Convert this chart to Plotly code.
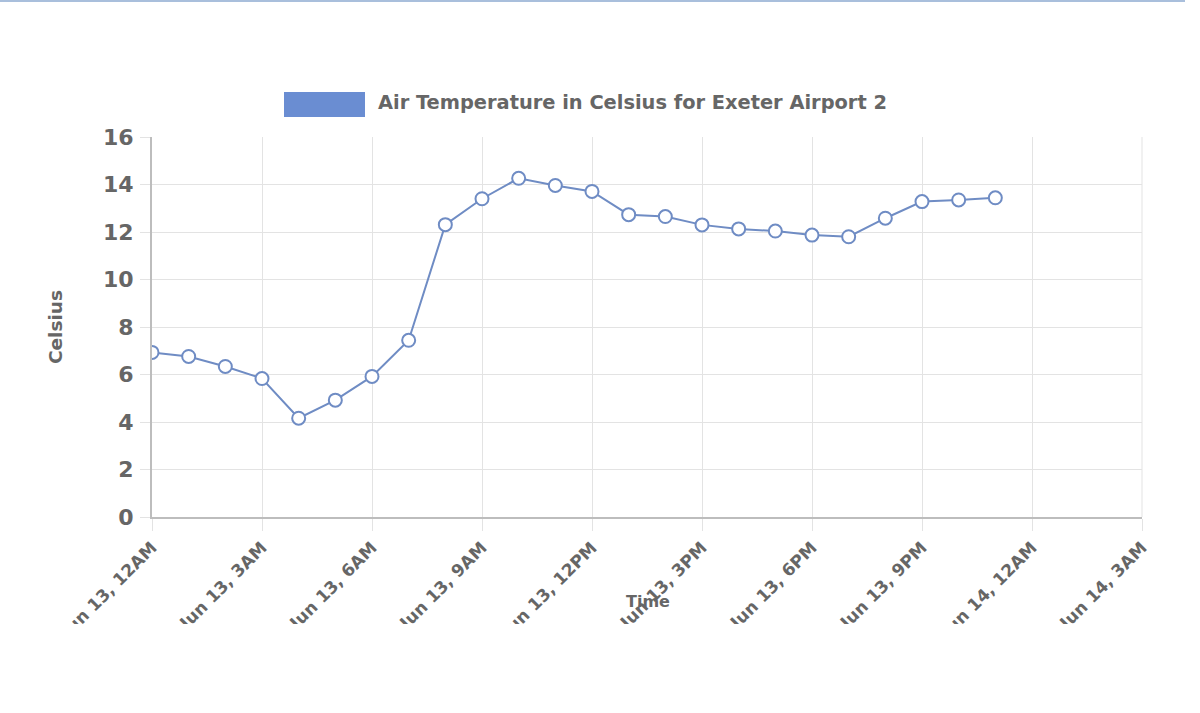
"""
Line chart: air temperature at Exeter Airport
"""
import plotly.graph_objects as go
import pandas as pd

# hourly readings, Jun 13
times = pd.date_range("2023-06-13 00:00", periods=24, freq="h")
temps = [6.93, 6.76, 6.34, 5.83, 4.16, 4.92, 5.92, 7.44, 12.31, 13.40, 14.26, 13.96,
         13.71, 12.73, 12.65, 12.30, 12.13, 12.04, 11.87, 11.80, 12.58, 13.28, 13.35, 13.44]

tick_vals = pd.date_range("2023-06-13 00:00", "2023-06-14 03:00", freq="3h")
tick_text = ["Jun 13, 12AM", "Jun 13, 3AM", "Jun 13, 6AM", "Jun 13, 9AM", "Jun 13, 12PM",
             "Jun 13, 3PM", "Jun 13, 6PM", "Jun 13, 9PM", "Jun 14, 12AM", "Jun 14, 3AM"]
y_ticks = [0, 2, 4, 6, 8, 10, 12, 14, 16]

series_name = "Air Temperature in Celsius for Exeter Airport 2"

FONT = "DejaVu Sans"
GREY = "#666666"
LINE_COL = "#6f8cc4"

# plot area in pixels (from the reference)
L, R, T, B = 152, 1142, 137, 517
W, H = 1200, 713


def px_x(p):
    return (p - L) / (R - L)


def px_y(p):
    return (B - p) / (B - T)


fig = go.Figure()
fig.add_trace(go.Scatter(
    x=times, y=temps, mode="lines+markers", name=series_name,
    line=dict(color=LINE_COL, width=2),
    marker=dict(size=13, color="white", line=dict(color=LINE_COL, width=2)),
    showlegend=False,
))

fig.update_layout(
    width=W, height=H,
    margin=dict(l=L, r=W - R, t=T, b=H - B, pad=0),
    paper_bgcolor="white", plot_bgcolor="white",
    font=dict(family=FONT, color=GREY),
    xaxis=dict(
        range=[tick_vals[0], tick_vals[-1]],
        tickvals=tick_vals, ticktext=tick_text, tickangle=-45,
        tickfont=dict(size=17, family=FONT, color=GREY, weight="bold"),
        showgrid=True, gridcolor="#e3e3e3", gridwidth=1,
        ticks="outside", ticklen=12, tickcolor="#e3e3e3",
        showline=True, linecolor="#bdbdbd", linewidth=2,
        zeroline=False, mirror=False,
    ),
    yaxis=dict(
        range=[0, 16], tickvals=y_ticks,
        tickfont=dict(size=22, family=FONT, color=GREY, weight="bold"),
        ticklabelstandoff=2,
        showgrid=True, gridcolor="#e3e3e3", gridwidth=1,
        ticks="outside", ticklen=10, tickcolor="#e3e3e3",
        showline=True, linecolor="#bdbdbd", linewidth=2,
        zeroline=False,
    ),
    shapes=[
        # right border of grid
        dict(type="line", xref="paper", yref="paper", x0=1, x1=1, y0=0, y1=1,
             line=dict(color="#e3e3e3", width=1)),
        # legend box
        dict(type="rect", xref="paper", yref="paper",
             x0=px_x(284), x1=px_x(365), y0=px_y(117), y1=px_y(92),
             fillcolor="#6a8dd2", line=dict(width=0)),
        # canvas edge clipping the tick labels
        dict(type="rect", xref="paper", yref="paper", layer="above",
             x0=px_x(0), x1=px_x(W), y0=px_y(H), y1=px_y(624),
             fillcolor="white", line=dict(width=0)),
        # top border line
        dict(type="line", xref="paper", yref="paper",
             x0=px_x(0), x1=px_x(1185), y0=px_y(1), y1=px_y(1),
             line=dict(color="#a9bfdc", width=2)),
    ],
    annotations=[
        dict(text=series_name, xref="paper", yref="paper",
             x=px_x(376), y=px_y(103), xanchor="left", yanchor="middle",
             showarrow=False, font=dict(size=19.4, family=FONT, color=GREY, weight="bold")),
        dict(text="Celsius", xref="paper", yref="paper",
             x=px_x(55), y=px_y(327), textangle=-90, xanchor="center", yanchor="middle",
             showarrow=False, font=dict(size=18.5, family=FONT, color=GREY, weight="bold")),
        dict(text="Time", xref="paper", yref="paper",
             x=px_x(648), y=px_y(601), xanchor="center", yanchor="middle",
             showarrow=False, font=dict(size=16, family=FONT, color=GREY, weight="bold")),
    ],
)

fig.write_html("out.html", config={"displayModeBar": False},
               post_script="document.body.style.margin='0';")
